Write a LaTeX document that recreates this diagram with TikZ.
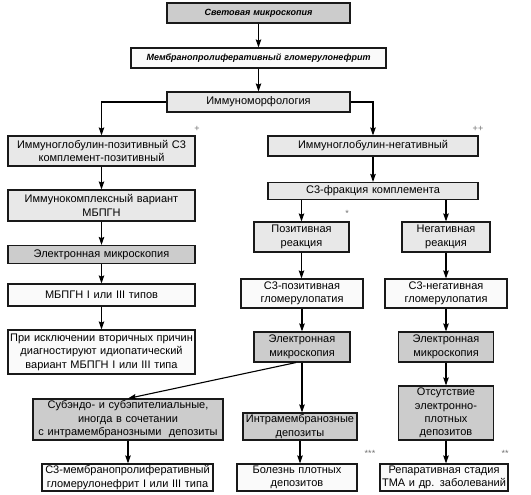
\documentclass[tikz,border=0pt]{standalone}
\usepackage{fontspec}
\setmainfont{Liberation Sans}
\usepackage{tikz}
\usetikzlibrary{arrows.meta}

\tikzset{
  box/.style={draw=black!90, line width=1.1pt, align=center, inner xsep=1pt, inner ysep=0pt,
    font=\fontsize{11}{13.4}\selectfont},
  lite/.style={box, fill=black!9},
  dark/.style={box, fill=black!20},
  pale/.style={box, fill=black!2},
  head/.style={font=\fontsize{9}{11}\selectfont\bfseries\itshape},
  note/.style={text=black!55, inner sep=0pt, font=\fontsize{9}{9}\selectfont},
  >={Stealth[length=8pt,width=5.5pt,inset=1.2pt]}
}

\begin{document}
\begin{tikzpicture}[x=1pt, y=-1pt, line width=1.1pt]
\useasboundingbox (0,0) rectangle (531,495);

\node[dark, head, minimum width=183, text width=181, minimum height=20](A) at (258.5,13) {Световая микроскопия};
\node[pale, head, minimum width=255, text width=253, minimum height=20](B) at (258.5,58) {Мембранопролиферативный гломерулонефрит};
\node[lite, minimum width=183, text width=181, minimum height=20](C) at (258.5,102) {Иммуноморфология};

\node[lite, minimum width=187, text width=185, minimum height=30](D) at (101.5,151) {Иммуноглобулин-позитивный С3\\комплемент-позитивный};
\node[lite, minimum width=187, text width=185, minimum height=31](F) at (101.5,205.5) {Иммунокомплексный вариант\\МБПГН};
\node[dark, minimum width=187, text width=185, minimum height=18](G) at (101.5,254.5) {Электронная микроскопия};
\node[pale, minimum width=187, text width=185, minimum height=22](H) at (101.5,295) {МБПГН I или III типов};
\node[pale, minimum width=187, text width=185, minimum height=44](I) at (101.5,352) {При исключении вторичных причин\\диагностируют идиопатический\\вариант МБПГН I или III типа};

\node[lite, minimum width=210, text width=208, minimum height=20](E) at (373,146) {Иммуноглобулин-негативный};
\node[lite, minimum width=210, text width=208, minimum height=17](J) at (373,191) {С3-фракция комплемента};

\node[lite, minimum width=95, text width=93, minimum height=30](K) at (301.5,237) {Позитивная\\реакция};
\node[lite, minimum width=88, text width=86, minimum height=30](L) at (446,237) {Негативная\\реакция};
\node[pale, minimum width=122, text width=120, minimum height=29](M) at (302,293.5) {С3-позитивная\\гломерулопатия};
\node[pale, minimum width=122, text width=120, minimum height=29](N) at (446,293.5) {С3-негативная\\гломерулопатия};
\node[dark, minimum width=96, text width=94, minimum height=30](O) at (302,347) {Электронная\\микроскопия};
\node[dark, minimum width=95, text width=93, minimum height=30](P) at (446,347) {Электронная\\микроскопия};

\node[dark, minimum width=190, text width=188, minimum height=41](Q) at (128,419.5) {Субэндо- и субэпителиальные,\\иногда в сочетании\\с интрамембранозными\ \ депозиты};
\node[dark, minimum width=114, text width=112, minimum height=27](R) at (300,426.5) {Интрамембранозные\\депозиты};
\node[dark, minimum width=95, text width=93, minimum height=54](S) at (446,413) {Отсутствие\\электронно-\\плотных\\депозитов};

\node[pale, minimum width=171, text width=169, minimum height=27](T) at (127.5,477.5) {С3-мембранопролиферативный\\гломерулонефрит I или III типа};
\node[pale, minimum width=120, text width=118, minimum height=27](U) at (297,477.5) {Болезнь плотных\\депозитов};
\node[pale, minimum width=128, text width=126, minimum height=27](V) at (444,477.5) {Репаративная стадия\\ТМА и др. заболеваний};

% marks
\node[note](n1) at (197,129) {+};
\node[note](n2) at (478,129) {++};
\node[note](n3) at (347,213) {*};
\node[note](n4) at (370,453) {***};
\node[note](n5) at (505,453) {**};

\path[->] (A) edge (B);
\path[->] (B) edge (C);
\draw[->] (C.west) -| (D.north);
\draw[->] (C.east) -| (E.north);

\path[->] (D) edge (F);
\path[->] (F) edge (G);
\path[->] (G) edge (H);
\path[->] (H) edge (I);

\path[->] (E) edge (J);
\draw[->] (K.north |- J.south) -- (K.north);
\draw[->] (L.north |- J.south) -- (L.north);
\draw[->] (K.south) -- (K.south |- M.north);
\path[->] (L) edge (N);
\draw[->] (M.south) -- (M.south |- O.north);
\path[->] (N) edge (P);

\draw[->] ([xshift=-6pt]O.south) -- (Q.north);
\draw[->] (O.south) -- (O.south |- R.north);
\path[->] (P) edge (S);

\draw[->] (Q.south) -- (Q.south |- T.north);
\draw[->] (R.south) -- (R.south |- U.north);
\draw[->] (S.south) -- (S.south |- V.north);
\end{tikzpicture}
\end{document}
